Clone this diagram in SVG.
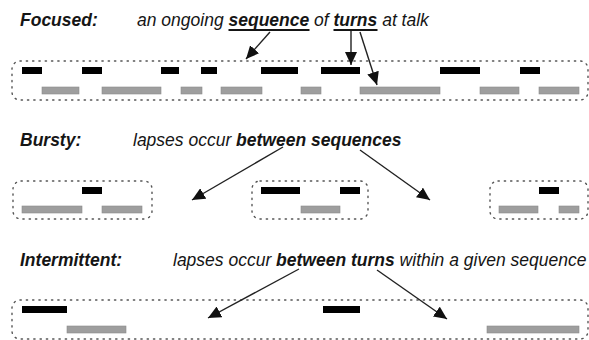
<svg xmlns="http://www.w3.org/2000/svg" width="589" height="340" viewBox="0 0 589 340">
<style>
text{font-family:"Liberation Sans",Arial,sans-serif;font-style:italic;font-size:17.5px;fill:#151515}
.t{font-weight:bold}
.b{font-weight:bold}
.box{fill:none;stroke:#555;stroke-width:1.4;stroke-dasharray:1.3 5;stroke-linecap:round}
.k{fill:#000}
.g{fill:#9e9e9e;stroke:#8a8a8a;stroke-width:0.6}
.ar{stroke:#222;stroke-width:1.4;fill:none;marker-end:url(#ah)}
.ul{stroke:#151515;stroke-width:2}
</style>
<defs>
<marker id="ah" markerUnits="userSpaceOnUse" markerWidth="14" markerHeight="12" viewBox="0 0 14 12" refX="13" refY="6" orient="auto">
<path d="M0,0 L13,6 L0,12 Z" fill="#111"/>
</marker>
</defs>
<g id="labels">
<text class="t" x="20" y="26">Focused:</text>
<text x="137" y="26">an ongoing <tspan class="b">sequence</tspan> of <tspan class="b">turns</tspan> at talk</text>
<line class="ul" x1="228.5" y1="30" x2="309.5" y2="30"/>
<line class="ul" x1="333.5" y1="30" x2="377.5" y2="30"/>
<text class="t" x="20" y="146">Bursty:</text>
<text x="133" y="146">lapses occur <tspan class="b">between sequences</tspan></text>
<text class="t" x="20" y="266">Intermittent:</text>
<text x="173" y="266">lapses occur <tspan class="b">between turns</tspan> within a given sequence</text>
</g>
<g id="focused">
<rect class="box" x="12" y="61" width="576" height="39" rx="8"/>
<rect class="k" x="22" y="67" width="20" height="7"/>
<rect class="k" x="82" y="67" width="20" height="7"/>
<rect class="k" x="161" y="67" width="18" height="7"/>
<rect class="k" x="201" y="67" width="16" height="7"/>
<rect class="k" x="261" y="67" width="37" height="7"/>
<rect class="k" x="321" y="67" width="39" height="7"/>
<rect class="k" x="440" y="67" width="40" height="7"/>
<rect class="k" x="520" y="67" width="20" height="7"/>
<rect class="g" x="42" y="87" width="37" height="7"/>
<rect class="g" x="102" y="87" width="59" height="7"/>
<rect class="g" x="181" y="87" width="21" height="7"/>
<rect class="g" x="221" y="87" width="41" height="7"/>
<rect class="g" x="301" y="87" width="20" height="7"/>
<rect class="g" x="360" y="87" width="80" height="7"/>
<rect class="g" x="480" y="87" width="39" height="7"/>
<rect class="g" x="539" y="87" width="40" height="7"/>
</g>
<g id="bursty1">
<rect class="box" x="13" y="181" width="139" height="38" rx="8"/>
<rect class="k" x="82" y="187" width="20" height="7"/>
<rect class="g" x="22" y="206" width="60" height="7"/>
<rect class="g" x="102" y="206" width="40" height="7"/>
</g>
<g id="bursty2">
<rect class="box" x="252" y="181" width="116" height="38" rx="8"/>
<rect class="k" x="261" y="187" width="39" height="7"/>
<rect class="k" x="340" y="187" width="20" height="7"/>
<rect class="g" x="301" y="206" width="39" height="7"/>
</g>
<g id="bursty3">
<rect class="box" x="490" y="181" width="98" height="38" rx="8"/>
<rect class="k" x="539" y="187" width="20" height="7"/>
<rect class="g" x="499" y="206" width="39" height="7"/>
<rect class="g" x="559" y="206" width="20" height="7"/>
</g>
<g id="intermittent">
<rect class="box" x="12" y="300" width="576" height="39" rx="8"/>
<rect class="k" x="22" y="306" width="45" height="7"/>
<rect class="k" x="323" y="306" width="37" height="7"/>
<rect class="g" x="67" y="326" width="59" height="7"/>
<rect class="g" x="487" y="326" width="92" height="7"/>
</g>
<g id="connectors">
<line class="ar" x1="270" y1="32" x2="246" y2="59"/>
<line class="ar" x1="351" y1="31" x2="351" y2="65"/>
<line class="ar" x1="360" y1="32" x2="377" y2="85"/>
<line class="ar" x1="283" y1="147" x2="192" y2="200"/>
<line class="ar" x1="360" y1="150" x2="430" y2="200"/>
<line class="ar" x1="299" y1="269" x2="208" y2="318"/>
<line class="ar" x1="377" y1="270" x2="447" y2="319"/>
</g>
</svg>
